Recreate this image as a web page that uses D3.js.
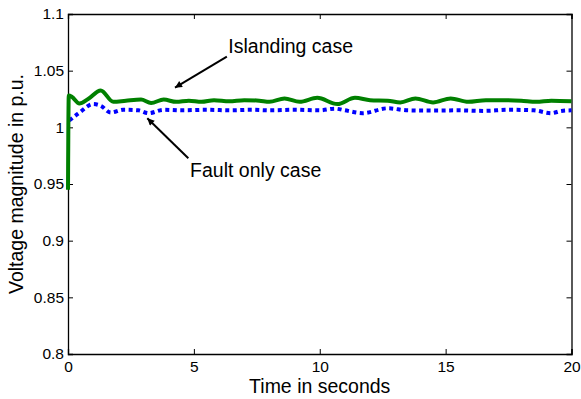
<!DOCTYPE html>
<html lang="en">
<head>
<meta charset="UTF-8">
<title>Voltage magnitude</title>
<script src="https://cdn.jsdelivr.net/npm/d3@7/dist/d3.min.js"></script>
<style>
    body { margin: 0; background: #fff; }
    text { font-family: "Liberation Sans", Arial, sans-serif; fill: #000; }
</style>
</head>
<body>
<svg id="chart" width="581" height="399"></svg>
<script>
'use strict';
// islanding case (green solid)
const islandT = [0, 0.03, 0.15, 0.45, 0.8, 1.3, 1.8, 2.3, 2.9, 3.3, 3.8, 4.3, 4.8, 5.3, 5.8, 6.4, 7.0, 7.6, 8.0, 8.6, 9.2, 9.9,
    10.7, 11.4, 12.0, 12.7, 13.2, 13.8, 14.5, 15.2, 15.9, 16.6, 17.3, 18.0, 18.6, 19.2, 20];
const islandV = [0.945, 1.028, 1.027, 1.021, 1.025, 1.0325, 1.0225, 1.0235, 1.0245, 1.0215, 1.0245, 1.0225, 1.0235, 1.0225,
    1.024, 1.023, 1.024, 1.0235, 1.0225, 1.0255, 1.0225, 1.026, 1.0205, 1.026, 1.024, 1.0235, 1.022, 1.0255, 1.022, 1.0255,
    1.0225, 1.024, 1.024, 1.0235, 1.0225, 1.0235, 1.023];
// fault only case (blue dotted)
const faultT = [0.05, 0.4, 1.0, 1.3, 1.7, 2.2, 2.8, 3.2, 3.8, 4.5, 5.5, 6.5, 7.3, 8.0, 9.0, 10.0, 10.6, 11.0, 11.7, 12.7,
    13.5, 14.5, 15.5, 16.5, 17.5, 18.5, 19.2, 19.6, 20];
const faultV = [1.006, 1.012, 1.0205, 1.019, 1.013, 1.0155, 1.015, 1.0125, 1.0155, 1.015, 1.0155, 1.015, 1.0155, 1.015,
    1.0155, 1.015, 1.0165, 1.015, 1.0125, 1.0168, 1.015, 1.0148, 1.015, 1.0145, 1.0155, 1.015, 1.0125, 1.0145, 1.015];

const xTicks = [0, 5, 10, 15, 20];
const yTicks = [0.8, 0.85, 0.9, 0.95, 1, 1.05, 1.1];
const yTickLabels = ['0.8', '0.85', '0.9', '0.95', '1', '1.05', '1.1'];

// annotations: [label, textT, textV, tailT, tailV, tipT, tipV]
const notes = [
    ['Islanding case', 6.37, 1.066, 6.31, 1.0623, 4.25, 1.035],
    ['Fault only case', 4.85, 0.9564, 4.78, 0.9727, 3.15, 1.008]
];

const svg = d3.select('#chart');
const mLeft = 68, mRight = 571.5, mTop = 14, mBottom = 354;
const x = d3.scaleLinear().domain([0, 20]).range([mLeft, mRight]);
const y = d3.scaleLinear().domain([0.8, 1.1]).range([mBottom, mTop]);

// frame with inward ticks (matlab style)
const tk = 5;
svg.append('g').attr('transform', `translate(0,${mBottom})`)
    .call(d3.axisBottom(x).tickValues(xTicks).tickSize(-tk).tickPadding(7).tickFormat(d3.format('d')));
svg.append('g').attr('transform', `translate(0,${mTop})`)
    .call(d3.axisTop(x).tickValues(xTicks).tickSize(-tk).tickFormat(''));
svg.append('g').attr('transform', `translate(${mLeft},0)`)
    .call(d3.axisLeft(y).tickValues(yTicks).tickSize(-tk).tickPadding(4).tickFormat((d, i) => yTickLabels[i]));
svg.append('g').attr('transform', `translate(${mRight},0)`)
    .call(d3.axisRight(y).tickValues(yTicks).tickSize(-tk).tickFormat(''));
svg.selectAll('.domain').attr('stroke', '#000').attr('stroke-width', 1.3);
svg.selectAll('.tick line').attr('stroke', '#000');
svg.selectAll('.tick text').style('font-size', '15.5px').attr('fill', '#000')
    .style('font-family', '"Liberation Sans", Arial, sans-serif');

const line = d3.line().x(d => x(d[0])).y(d => y(d[1])).curve(d3.curveMonotoneX);

svg.append('path')
    .datum(faultT.map((t, i) => [t, faultV[i]]))
    .attr('d', line)
    .attr('fill', 'none')
    .attr('stroke', '#0000ff')
    .attr('stroke-width', 4)
    .attr('stroke-dasharray', '4,3.5');

svg.append('path')
    .datum(islandT.map((t, i) => [t, islandV[i]]))
    .attr('d', line)
    .attr('fill', 'none')
    .attr('stroke', '#008000')
    .attr('stroke-width', 4)
    .attr('stroke-linejoin', 'round');

// arrow marker
svg.append('defs').append('marker')
    .attr('id', 'arrow')
    .attr('viewBox', '0 0 10 10')
    .attr('refX', 10).attr('refY', 5)
    .attr('markerWidth', 9).attr('markerHeight', 7)
    .attr('markerUnits', 'userSpaceOnUse')
    .attr('orient', 'auto')
    .append('path').attr('d', 'M0,0L10,5L0,10Z').attr('fill', '#000');

notes.forEach(n => {
    svg.append('line')
        .attr('x1', x(n[3])).attr('y1', y(n[4]))
        .attr('x2', x(n[5])).attr('y2', y(n[6]))
        .attr('stroke', '#000').attr('stroke-width', 2)
        .attr('marker-end', 'url(#arrow)');
    svg.append('text')
        .attr('x', x(n[1])).attr('y', y(n[2]))
        .style('font-size', '19.5px')
        .text(n[0]);
});

// axis titles
svg.append('text')
    .attr('x', (mLeft + mRight) / 2).attr('y', 392.5)
    .attr('text-anchor', 'middle')
    .style('font-size', '19.5px')
    .text('Time in seconds');
svg.append('text')
    .attr('transform', `translate(23,${(mTop + mBottom) / 2}) rotate(-90)`)
    .attr('text-anchor', 'middle')
    .style('font-size', '19.5px')
    .text('Voltage magnitude in p.u.');
</script>
</body>
</html>
